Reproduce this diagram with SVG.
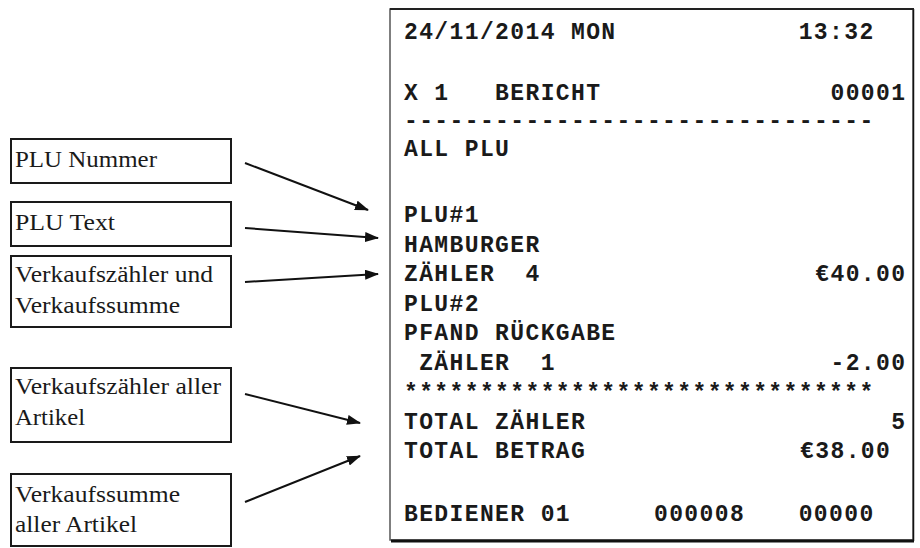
<svg xmlns="http://www.w3.org/2000/svg" width="920" height="548" viewBox="0 0 920 548">
<style>
.lbl{font-family:"Liberation Serif","Times New Roman",serif;font-size:23px;fill:#1a1a1a}
.box{fill:#fff;stroke:#1a1a1a;stroke-width:2}
.rc{font-family:"Liberation Mono","Courier New",monospace;font-size:23px;letter-spacing:1.38px;font-weight:bold;fill:#1a1a1a}
.end{text-anchor:end}
.conn{stroke:#111;stroke-width:2;fill:none;marker-end:url(#ah)}
</style>
<defs>
<marker id="ah" markerUnits="userSpaceOnUse" markerWidth="14" markerHeight="10" refX="13" refY="5" orient="auto">
<path d="M0,0 L14,5 L0,10 Z" fill="#111"/>
</marker>
</defs>
<rect width="920" height="548" fill="#fff"/>
<g id="receipt">
<rect x="390" y="9" width="523" height="531" fill="#fff" stroke="#555" stroke-width="1.5"/>
<line x1="391" y1="541" x2="914" y2="541" stroke="#111" stroke-width="3"/>
<line x1="913.5" y1="9" x2="913.5" y2="541" stroke="#111" stroke-width="1.5"/>
<line x1="390" y1="9" x2="914" y2="9" stroke="#222" stroke-width="2"/>
<text class="rc" x="404" y="39">24/11/2014 MON</text>
<text class="rc" x="798.7" y="39">13:32</text>
<text class="rc" x="404" y="100" xml:space="preserve">X 1   BERICHT</text>
<text class="rc end" x="906.4" y="100">00001</text>
<text class="rc" x="404" y="128">-------------------------------</text>
<text class="rc" x="404" y="156">ALL PLU</text>
<text class="rc" x="404" y="222">PLU#1</text>
<text class="rc" x="404" y="251.5">HAMBURGER</text>
<text class="rc" x="404" y="281" xml:space="preserve">ZÄHLER  4</text>
<text class="rc end" x="906.4" y="281">€40.00</text>
<text class="rc" x="404" y="310.5">PLU#2</text>
<text class="rc" x="404" y="340">PFAND RÜCKGABE</text>
<text class="rc" x="419.2" y="369.5" xml:space="preserve">ZÄHLER  1</text>
<text class="rc end" x="906.4" y="369.5">-2.00</text>
<text class="rc" x="404" y="400">*******************************</text>
<text class="rc" x="404" y="428.5">TOTAL ZÄHLER</text>
<text class="rc end" x="906.4" y="428.5">5</text>
<text class="rc" x="404" y="458">TOTAL BETRAG</text>
<text class="rc end" x="891.2" y="458">€38.00</text>
<text class="rc" x="404" y="521">BEDIENER 01</text>
<text class="rc" x="654" y="521">000008</text>
<text class="rc" x="798.7" y="521">00000</text>
</g>
<g id="n-plu-nummer">
<rect class="box" x="11" y="139" width="220" height="44"/>
<text class="lbl" x="15" y="167" textLength="142" lengthAdjust="spacingAndGlyphs">PLU Nummer</text>
</g>
<g id="n-plu-text">
<rect class="box" x="11" y="202" width="220" height="44"/>
<text class="lbl" x="15" y="230" textLength="100" lengthAdjust="spacingAndGlyphs">PLU Text</text>
</g>
<g id="n-verkauf">
<rect class="box" x="11" y="256" width="220" height="71"/>
<text class="lbl" x="15" y="282" textLength="198" lengthAdjust="spacingAndGlyphs">Verkaufszähler und</text>
<text class="lbl" x="15" y="313" textLength="165" lengthAdjust="spacingAndGlyphs">Verkaufssumme</text>
</g>
<g id="n-zaehler-alle">
<rect class="box" x="11" y="368" width="220" height="74"/>
<text class="lbl" x="15" y="394" textLength="206" lengthAdjust="spacingAndGlyphs">Verkaufszähler aller</text>
<text class="lbl" x="15" y="425" textLength="70" lengthAdjust="spacingAndGlyphs">Artikel</text>
</g>
<g id="n-summe-alle">
<rect class="box" x="11" y="474" width="220" height="72"/>
<text class="lbl" x="15" y="502" textLength="165" lengthAdjust="spacingAndGlyphs">Verkaufssumme</text>
<text class="lbl" x="15" y="532" textLength="122" lengthAdjust="spacingAndGlyphs">aller Artikel</text>
</g>
<g id="connectors">
<line class="conn" x1="245" y1="163" x2="368" y2="210"/>
<line class="conn" x1="245" y1="228" x2="378" y2="238"/>
<line class="conn" x1="245" y1="282" x2="378" y2="274"/>
<line class="conn" x1="245" y1="394" x2="360" y2="423"/>
<line class="conn" x1="245" y1="502" x2="360" y2="456"/>
</g>
</svg>
